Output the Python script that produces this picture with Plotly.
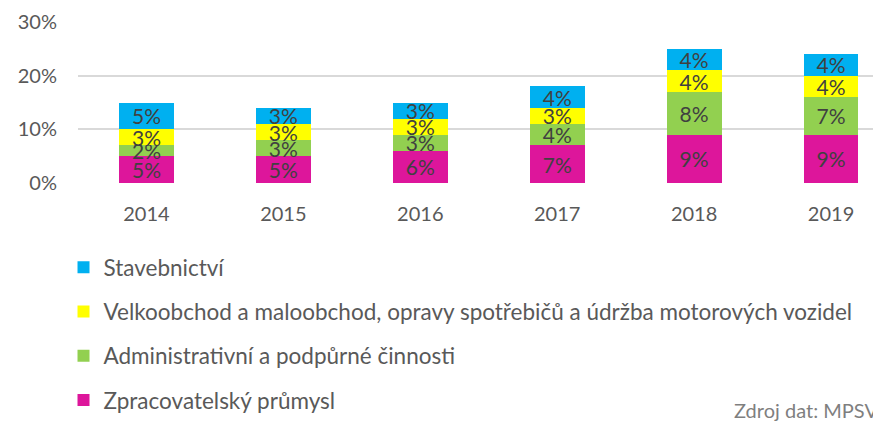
import plotly.graph_objects as go

years = ["2014", "2015", "2016", "2017", "2018", "2019"]
zpracovatelsky = [0.05, 0.05, 0.06, 0.07, 0.09, 0.09]
administrativni = [0.02, 0.03, 0.03, 0.04, 0.08, 0.07]
velkoobchod = [0.03, 0.03, 0.03, 0.03, 0.04, 0.04]
stavebnictvi = [0.05, 0.03, 0.03, 0.04, 0.04, 0.04]

series = [
    ("Zpracovatelský průmysl", zpracovatelsky, "#DD169B", 4),
    ("Administrativní a podpůrné činnosti", administrativni, "#92D050", 3),
    ("Velkoobchod a maloobchod, opravy spotřebičů a údržba motorových vozidel", velkoobchod, "#FFFF00", 2),
    ("Stavebnictví", stavebnictvi, "#00B0F0", 1),
]

FONT = "Lato"
OFF = 8  # page body margin
W, H = 881 - OFF, 423 - OFF
L, T, B = 77.5 - OFF, 22 - OFF, 240
plot_w = W - L
plot_h = H - T - B


def px_x(sx):
    return (sx - OFF - L) / plot_w


def px_y(sy):
    return (H - B - (sy - OFF)) / plot_h


fig = go.Figure()
for name, vals, col, rank in series:
    fig.add_trace(go.Bar(
        x=years, y=vals, name=name, legendgroup=name, legendrank=rank,
        marker=dict(color=col, line=dict(width=0)),
        texttemplate="%{y:.0%}",
        textposition="inside", insidetextanchor="middle",
        textfont=dict(family=FONT, size=21, color="#404040"),
        constraintext="none", width=0.4,
        hoverinfo="skip",
    ))

fig.update_layout(
    width=W, height=H,
    margin=dict(l=L, r=0, t=T, b=B, pad=0, autoexpand=False),
    barmode="stack",
    plot_bgcolor="white", paper_bgcolor="white",
    font=dict(family=FONT, color="#595959", size=20),
    uniformtext=dict(minsize=21, mode="show"),
    showlegend=True,
    legend=dict(
        x=px_x(103 - 40), xanchor="left",
        y=px_y(246), yanchor="top",
        traceorder="grouped", tracegroupgap=12,
        font=dict(family=FONT, size=22.5, color="#595959"),
        bgcolor="rgba(0,0,0,0)",
    ),
    annotations=[dict(
        text="Zdroj dat: MPSV", xref="paper", yref="paper",
        x=px_x(880), y=px_y(424),
        xanchor="right", yanchor="bottom", showarrow=False,
        font=dict(family=FONT, size=20, color="#7F7F7F"),
    )],
)
fig.update_xaxes(
    range=[-0.5, 5.365], showgrid=False, zeroline=False, showline=False,
    ticks="", ticklabelstandoff=17,
    tickfont=dict(family=FONT, size=20, color="#595959"),
)
fig.update_yaxes(
    range=[0, 0.30], dtick=0.10, tickformat=".0%",
    showgrid=True, gridcolor="#D9D9D9", gridwidth=2,
    zeroline=False, showline=False, ticks="", ticklabelstandoff=20,
    tickfont=dict(family=FONT, size=20, color="#595959"),
)

fig.write_html("out.html")
